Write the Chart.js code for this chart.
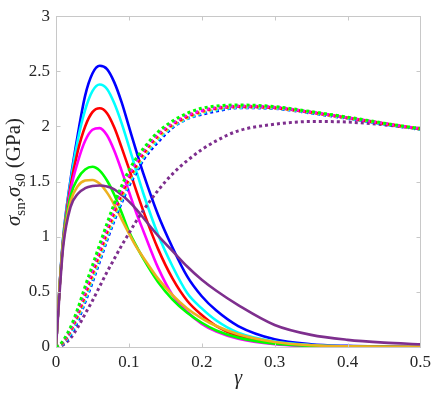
<!DOCTYPE html>
<html>
<head>
<meta charset="utf-8">
<script src="https://cdn.jsdelivr.net/npm/chart.js@4.4.1/dist/chart.umd.min.js"></script>
<style>
html, body { margin: 0; padding: 0; background: #fff; }
</style>
</head>
<body>
<canvas id="chart" width="436" height="393"></canvas>
<script>
// shear strain values (x axis)
const gamma = [0, 0.005, 0.01, 0.02, 0.03, 0.04, 0.05, 0.06, 0.07, 0.08, 0.09, 0.10, 0.11, 0.12,
               0.14, 0.16, 0.18, 0.20, 0.22, 0.25, 0.30, 0.35, 0.40, 0.45, 0.50];

// solid curves (sigma_sn)
const snBlue    = [0, 0.56, 1.00, 1.52, 1.93, 2.28, 2.48, 2.55, 2.52, 2.40, 2.22, 2.00, 1.78, 1.57, 1.20, 0.90, 0.64, 0.46, 0.33, 0.19, 0.07, 0.025, 0.010, 0.004, 0.001];
const snCyan    = [0, 0.56, 1.00, 1.50, 1.88, 2.15, 2.32, 2.38, 2.34, 2.21, 2.03, 1.82, 1.60, 1.39, 1.02, 0.73, 0.49, 0.35, 0.24, 0.13, 0.05, 0.018, 0.006, 0.002, 0];
const snRed     = [0, 0.55, 0.98, 1.46, 1.78, 2.00, 2.13, 2.165, 2.12, 1.99, 1.81, 1.62, 1.42, 1.23, 0.89, 0.62, 0.42, 0.29, 0.19, 0.10, 0.035, 0.012, 0.004, 0.001, 0];
const snMagenta = [0, 0.55, 0.97, 1.42, 1.68, 1.87, 1.97, 1.985, 1.92, 1.78, 1.60, 1.41, 1.22, 1.05, 0.72, 0.47, 0.32, 0.21, 0.14, 0.075, 0.025, 0.008, 0.003, 0.001, 0];
const snGreen   = [0, 0.55, 0.97, 1.37, 1.53, 1.61, 1.635, 1.60, 1.51, 1.38, 1.22, 1.05, 0.92, 0.80, 0.59, 0.43, 0.31, 0.22, 0.15, 0.085, 0.03, 0.01, 0.003, 0.001, 0];
const snOrange  = [0, 0.55, 0.95, 1.32, 1.46, 1.51, 1.515, 1.48, 1.40, 1.29, 1.16, 1.03, 0.91, 0.81, 0.62, 0.47, 0.35, 0.26, 0.19, 0.115, 0.045, 0.016, 0.006, 0.002, 0.001];
const snPurple  = [0, 0.50, 0.92, 1.27, 1.39, 1.44, 1.46, 1.465, 1.455, 1.43, 1.38, 1.32, 1.25, 1.17, 1.01, 0.87, 0.73, 0.61, 0.51, 0.38, 0.20, 0.11, 0.065, 0.04, 0.025];

// dotted curves (sigma_s0)
const s0Green   = [0, 0.02, 0.06, 0.18, 0.35, 0.55, 0.74, 0.93, 1.12, 1.30, 1.46, 1.60, 1.71, 1.80, 1.95, 2.05, 2.12, 2.165, 2.185, 2.195, 2.18, 2.135, 2.085, 2.03, 1.98];
const s0Magenta = [0, 0.02, 0.05, 0.16, 0.32, 0.51, 0.70, 0.89, 1.08, 1.26, 1.42, 1.56, 1.68, 1.78, 1.93, 2.03, 2.10, 2.145, 2.17, 2.185, 2.175, 2.13, 2.08, 2.028, 1.978];
const s0Red     = [0, 0.015, 0.045, 0.15, 0.30, 0.48, 0.67, 0.86, 1.05, 1.23, 1.39, 1.53, 1.65, 1.76, 1.92, 2.02, 2.09, 2.14, 2.165, 2.18, 2.17, 2.128, 2.078, 2.026, 1.977];
const s0Orange  = [0, 0.015, 0.04, 0.14, 0.28, 0.46, 0.64, 0.83, 1.02, 1.20, 1.36, 1.51, 1.63, 1.74, 1.90, 2.01, 2.08, 2.13, 2.16, 2.178, 2.168, 2.126, 2.077, 2.025, 1.976];
const s0Cyan    = [0, 0.012, 0.035, 0.12, 0.26, 0.43, 0.61, 0.80, 0.99, 1.17, 1.33, 1.48, 1.60, 1.72, 1.88, 2.00, 2.07, 2.12, 2.15, 2.172, 2.165, 2.124, 2.075, 2.023, 1.974];
const s0Blue    = [0, 0.01, 0.03, 0.11, 0.24, 0.41, 0.59, 0.78, 0.97, 1.15, 1.31, 1.46, 1.58, 1.70, 1.86, 1.99, 2.07, 2.11, 2.14, 2.17, 2.163, 2.122, 2.073, 2.022, 1.973];
const s0Purple  = [0, 0.005, 0.02, 0.08, 0.18, 0.30, 0.42, 0.55, 0.68, 0.80, 0.92, 1.03, 1.14, 1.24, 1.42, 1.57, 1.69, 1.79, 1.87, 1.96, 2.02, 2.045, 2.04, 2.015, 1.98];

// tick labels
const xTicks = [0, 0.1, 0.2, 0.3, 0.4, 0.5];
const yTicks = [0, 0.5, 1, 1.5, 2, 2.5, 3];

const C = {
  blue: '#0000ff', cyan: '#00ffff', red: '#ff0000', magenta: '#ff00ff',
  green: '#00ff00', orange: '#edb120', purple: '#7e2f8e'
};
const FONT = 'Liberation Serif';
Chart.defaults.font.family = FONT;
Chart.defaults.color = '#262626';

function pts(ys) {
  return gamma.map((g, i) => ({ x: g, y: ys[i] }));
}
function solid(ys, color, order) {
  return { data: pts(ys), borderColor: color, borderWidth: 2.6, pointRadius: 0,
           fill: false, cubicInterpolationMode: 'monotone', order: order };
}
function dotted(ys, color, order) {
  return { data: pts(ys), borderColor: color, borderWidth: 3, borderDash: [3, 3],
           borderCapStyle: 'butt', pointRadius: 0, fill: false,
           cubicInterpolationMode: 'monotone', order: order };
}

// box with inward ticks on all four sides, plus axis titles
const framePlugin = {
  id: 'frame',
  afterDatasetsDraw(chart) {
    const { ctx, chartArea: a, scales: { x, y } } = chart;
    ctx.save();
    ctx.strokeStyle = '#c8c8c8';
    ctx.lineWidth = 1;
    const L = Math.round(a.left) + 0.5, R = Math.round(a.right) + 0.5;
    const T = Math.round(a.top) + 0.5, B = Math.round(a.bottom) + 0.5;
    ctx.strokeRect(L, T, R - L, B - T);
    ctx.beginPath();
    xTicks.forEach(v => {
      const px = Math.round(x.getPixelForValue(v)) + 0.5;
      ctx.moveTo(px, B); ctx.lineTo(px, B - 4);
      ctx.moveTo(px, T); ctx.lineTo(px, T + 4);
    });
    yTicks.forEach(v => {
      const py = Math.round(y.getPixelForValue(v)) + 0.5;
      ctx.moveTo(L, py); ctx.lineTo(L + 4, py);
      ctx.moveTo(R, py); ctx.lineTo(R - 4, py);
    });
    ctx.stroke();
    ctx.restore();
  },
  afterDraw(chart) {
    const { ctx, chartArea: a } = chart;
    ctx.save();
    ctx.fillStyle = '#262626';
    // x title
    ctx.font = 'italic 20px ' + FONT;
    ctx.textAlign = 'center';
    ctx.textBaseline = 'alphabetic';
    ctx.fillText('\u03b3', (a.left + a.right) / 2, 384);
    // y title with subscripts
    const parts = [
      { t: '\u03c3', f: 'italic 21px ' + FONT, dy: 0 },
      { t: 'sn', f: '15px ' + FONT, dy: 5 },
      { t: ',', f: '21px ' + FONT, dy: 0 },
      { t: '\u03c3', f: 'italic 21px ' + FONT, dy: 0 },
      { t: 's0', f: '15px ' + FONT, dy: 5 },
      { t: ' (GPa)', f: '21px ' + FONT, dy: 0 }
    ];
    let total = 0;
    parts.forEach(p => { ctx.font = p.f; p.w = ctx.measureText(p.t).width; total += p.w; });
    ctx.translate(20, 172);
    ctx.rotate(-Math.PI / 2);
    ctx.textAlign = 'left';
    let cx = -total / 2;
    parts.forEach(p => { ctx.font = p.f; ctx.fillText(p.t, cx, p.dy); cx += p.w; });
    ctx.restore();
  }
};

new Chart(document.getElementById('chart'), {
  type: 'line',
  data: {
    datasets: [
      solid(snBlue, C.blue, 20),
      solid(snCyan, C.cyan, 19),
      solid(snRed, C.red, 18),
      solid(snMagenta, C.magenta, 17),
      solid(snGreen, C.green, 16),
      solid(snOrange, C.orange, 15),
      solid(snPurple, C.purple, 14),
      dotted(s0Purple, C.purple, 13),
      dotted(s0Blue, C.blue, 12),
      dotted(s0Cyan, C.cyan, 11),
      dotted(s0Orange, C.orange, 10),
      dotted(s0Red, C.red, 9),
      dotted(s0Magenta, C.magenta, 8),
      dotted(s0Green, C.green, 7)
    ]
  },
  options: {
    responsive: false,
    animation: false,
    devicePixelRatio: 1,
    layout: { padding: { left: 0, right: 13, top: 7, bottom: 0 } },
    plugins: { legend: { display: false }, tooltip: { enabled: false } },
    scales: {
      x: {
        type: 'linear', min: 0, max: 0.5,
        afterFit: s => { s.height = 46; },
        afterBuildTicks: s => { s.ticks = xTicks.map(v => ({ value: v })); },
        grid: { display: false, drawTicks: false },
        border: { display: false },
        ticks: { color: '#262626', padding: 5, font: { family: FONT, size: 17 },
                 callback: v => String(v) }
      },
      y: {
        type: 'linear', min: 0, max: 3,
        afterFit: s => { s.width = 56; },
        afterBuildTicks: s => { s.ticks = yTicks.map(v => ({ value: v })); },
        grid: { display: false, drawTicks: false },
        border: { display: false },
        ticks: { color: '#262626', padding: 6, font: { family: FONT, size: 17 },
                 callback: v => String(v) }
      }
    }
  },
  plugins: [framePlugin]
});
</script>
</body>
</html>
